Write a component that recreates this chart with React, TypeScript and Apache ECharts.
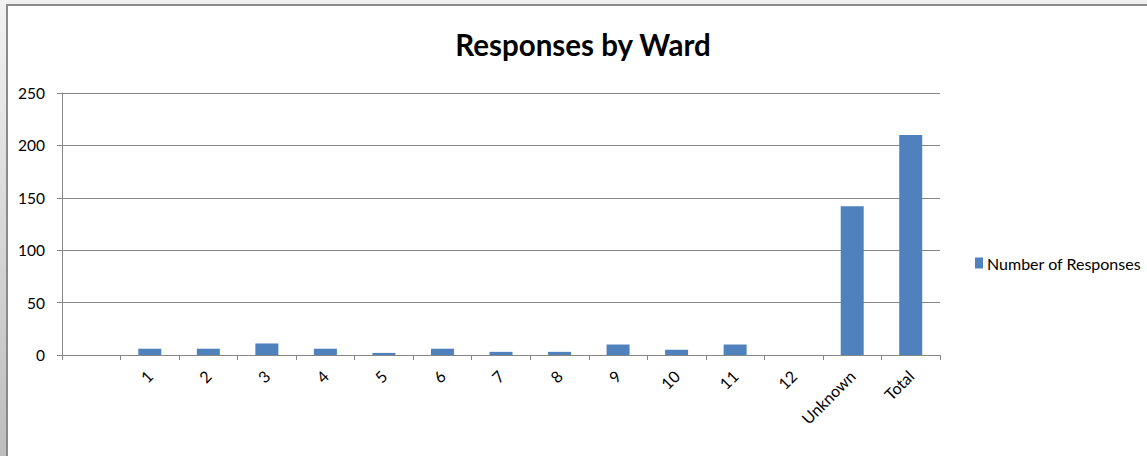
import React, { useEffect, useRef } from "react";
import * as echarts from "echarts";

const categories = ["", "1", "2", "3", "4", "5", "6", "7", "8", "9", "10", "11", "12", "Unknown", "Total"];
const responses = [null, 6, 6, 11, 6, 2, 6, 3, 3, 10, 5, 10, 0, 142, 210];
const seriesName = "Number of Responses";
const titleText = "Responses by Ward";

export default function App() {
  const ref = useRef<HTMLDivElement>(null);
  useEffect(() => {
    if (!ref.current) return;
    const chart = echarts.init(ref.current, null, { renderer: "svg" });
    const font = "Lato, 'Open Sans', sans-serif";
    chart.setOption({
      animation: false,
      backgroundColor: "#f0f0f0",
      graphic: [
        {
          type: "rect",
          z: -20,
          shape: { x: 0, y: 0, width: 7, height: 456 },
          style: {
            fill: new echarts.graphic.LinearGradient(0, 0, 0, 1, [
              { offset: 0, color: "#f2f2f2" },
              { offset: 1, color: "#bdbdbd" },
            ]),
          },
        },
        {
          type: "rect",
          z: -10,
          shape: { x: 7, y: 5, width: 1150, height: 460 },
          style: { fill: "#ffffff", stroke: "#8a8a8a", lineWidth: 2 },
        },
      ],
      title: {
        text: titleText,
        left: 578,
        top: 24,
        textAlign: "center",
        textStyle: { fontFamily: font, fontWeight: "bold", fontSize: 29.5, color: "#000" },
      },
      legend: {
        left: 970,
        top: 250,
        itemWidth: 8,
        itemHeight: 11,
        icon: "rect",
        itemGap: 5,
        textStyle: { fontFamily: font, fontSize: 16, color: "#000", padding: [0, 0, 0, -1] },
        data: [seriesName],
      },
      grid: { left: 62, right: 207, top: 93, bottom: 101 },
      xAxis: {
        type: "category",
        data: categories,
        boundaryGap: true,
        axisLine: { lineStyle: { color: "#868686", width: 1 } },
        axisTick: { show: true, length: 5, inside: false, lineStyle: { color: "#868686" } },
        axisLabel: {
          interval: 0,
          rotate: 45,
          margin: 18,
          fontFamily: font,
          fontSize: 16,
          color: "#000",
        },
      },
      yAxis: {
        type: "value",
        min: 0,
        max: 250,
        interval: 50,
        axisLine: { show: true, lineStyle: { color: "#868686", width: 1 } },
        axisTick: { show: true, length: 5, lineStyle: { color: "#868686" } },
        splitLine: { lineStyle: { color: "#868686", width: 1 } },
        axisLabel: { fontFamily: font, fontSize: 15.5, color: "#000", margin: 17 },
      },
      series: [
        {
          name: seriesName,
          type: "bar",
          data: responses,
          barWidth: 23,
          itemStyle: { color: "#4f81bd" },
        },
      ],
    });
    return () => chart.dispose();
  }, []);
  return (
    <div
      ref={ref}
      style={{ position: "absolute", left: 0, top: 0, width: 1147, height: 456 }}
    />
  );
}
